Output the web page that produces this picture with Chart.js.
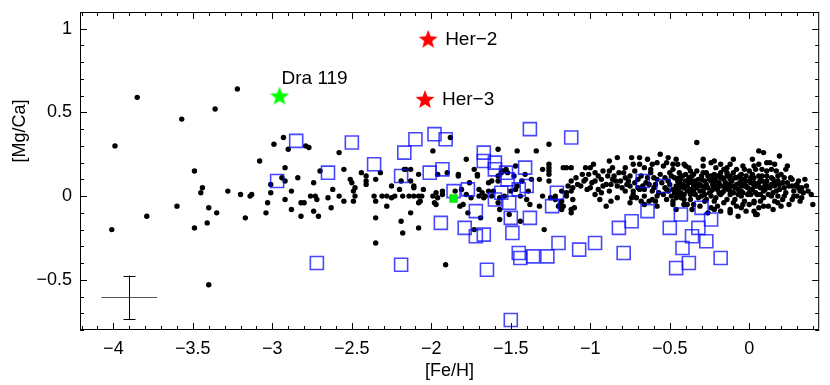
<!DOCTYPE html>
<html>
<head>
<meta charset="utf-8">
<script src="https://cdn.jsdelivr.net/npm/chart.js@4.4.1/dist/chart.umd.min.js"></script>
<style>
  html, body { margin: 0; padding: 0; background: #fff; }
  #chart { display: block; }
</style>
</head>
<body>
<canvas id="chart" width="830" height="385"></canvas>
<script>
// axis ticks
const xTicks = [-4, -3.5, -3, -2.5, -2, -1.5, -1, -0.5, 0];
const yTicks = [-0.5, 0, 0.5, 1];

// Her stars (red) and Dra 119 (green)
const herNames = ["Her\u22122", "Her\u22123"];
const herFeH = [-2.02, -2.04];
const herMgCa = [0.94, 0.58];
const draNames = ["Dra 119"];
const draFeH = [-2.955];
const draMgCa = [0.60];

// green filled square
const greenFeH = [-1.86];
const greenMgCa = [-0.014];

// typical error bar
const errFeH = [-3.90];
const errMgCa = [-0.605];
const errDx = [0.175];
const errDy = [0.13];

// dwarf galaxy stars (blue open squares)
const dsphStars = [
  [-2.85,0.33],[-2.65,0.14],[-2.97,0.09],[-2.50,0.32],[-2.36,0.19],[-2.72,-0.40],
  [-2.10,0.34],[-1.98,0.37],[-1.91,0.34],[-2.17,0.26],[-1.38,0.40],[-1.12,0.35],
  [-2.01,0.14],[-1.93,0.16],[-2.19,0.12],[-1.67,0.26],[-1.67,0.21],[-1.60,0.20],
  [-1.60,0.16],[-1.53,0.14],[-1.52,0.10],[-1.41,0.17],[-1.40,0.06],[-1.45,0.04],
  [-1.86,0.03],[-1.77,0.04],[-1.56,0.02],[-1.60,-0.02],[-1.51,-0.04],[-1.21,0.02],
  [-1.24,-0.06],[-1.72,-0.09],[-1.38,-0.13],[-1.50,-0.13],[-1.94,-0.16],[-1.79,-0.19],
  [-1.67,-0.23],[-1.72,-0.24],[-1.49,-0.22],[-1.20,-0.28],[-1.45,-0.34],[-1.44,-0.37],
  [-1.36,-0.36],[-1.27,-0.36],[-2.19,-0.41],[-1.65,-0.44],[-1.50,-0.74],[-1.07,-0.32],
  [-0.67,0.09],[-0.54,0.06],[-0.64,-0.09],[-0.74,-0.15],[-0.82,-0.19],[-0.50,-0.19],
  [-0.43,-0.11],[-0.97,-0.28],[-0.79,-0.34],[-0.42,-0.31],[-0.30,-0.07],[-0.24,-0.14],
  [-0.32,-0.19],[-0.36,-0.24],[-0.27,-0.27],[-0.18,-0.37],[-0.38,-0.40],[-0.46,-0.43]
];

// halo / disk field stars (black dots)
const fieldStars = [
  [-3.85,0.59],[-3.22,0.64],[-3.36,0.52],[-3.57,0.46],[-3.99,0.30],[-3.49,0.15],[-3.44,0.05],
  [-3.45,0.02],[-3.28,0.03],[-3.20,0.01],[-3.60,-0.06],[-3.40,-0.07],[-3.35,-0.10],[-3.79,-0.12],
  [-3.17,-0.13],[-3.41,-0.16],[-3.49,-0.19],[-4.01,-0.20],[-3.40,-0.53],[-3.14,0.00],[-3.13,0.01],
  [-2.93,0.35],[-2.99,0.31],[-2.90,0.28],[-2.79,0.30],[-2.77,0.29],[-3.08,0.21],[-2.58,0.26],
  [-2.92,0.17],[-2.94,0.11],[-2.92,0.09],[-2.70,0.15],[-2.55,0.16],[-2.84,0.11],[-2.74,0.08],
  [-3.01,0.07],[-3.01,0.02],[-2.88,0.03],[-3.03,-0.04],[-2.92,-0.02],[-2.82,-0.04],[-2.80,-0.04],
  [-2.76,0.00],[-2.73,0.00],[-2.72,-0.02],[-2.65,-0.01],[-2.62,0.04],[-2.58,0.00],[-2.55,-0.03],
  [-2.51,0.10],[-2.50,0.08],[-2.48,0.05],[-2.49,0.03],[-2.48,0.00],[-2.49,-0.03],[-2.44,0.14],
  [-2.41,0.12],[-2.41,0.09],[-2.41,0.07],[-2.35,0.10],[-2.32,0.14],[-2.36,0.00],[-2.35,-0.03],
  [-2.31,0.00],[-2.28,0.00],[-2.25,-0.01],[-2.23,0.00],[-2.25,0.06],[-2.20,0.04],[-2.19,0.09],
  [-2.17,0.16],[-2.18,0.00],[-2.28,-0.06],[-2.74,-0.09],[-2.88,-0.08],[-2.82,-0.12],[-2.71,-0.12],
  [-2.63,-0.07],[-3.04,-0.10],[-2.35,-0.13],[-2.19,-0.15],[-2.18,-0.22],[-2.35,-0.28],
  [-1.88,0.35],[-1.99,0.27],[-1.58,0.28],[-1.46,0.27],[-1.34,0.27],[-1.26,0.31],[-1.78,0.22],
  [-1.73,0.16],[-1.83,0.13],[-1.83,0.12],[-1.71,0.13],[-1.71,0.12],[-1.96,0.13],[-1.90,0.14],
  [-2.08,0.13],[-2.13,0.16],[-2.16,0.16],[-2.13,0.09],[-2.11,0.06],[-2.11,0.05],[-2.05,0.04],
  [-2.14,0.00],[-2.11,0.00],[-2.08,0.00],[-2.06,0.00],[-2.07,-0.03],[-2.08,-0.04],[-1.99,0.00],
  [-1.96,-0.01],[-1.97,0.02],[-1.93,0.03],[-1.93,0.01],[-1.98,-0.04],[-1.97,-0.05],[-1.85,0.03],
  [-1.81,0.04],[-1.76,0.08],[-1.78,0.01],[-1.75,-0.01],[-1.70,0.04],[-1.70,0.00],[-1.68,0.02],
  [-1.67,-0.01],[-1.66,0.00],[-1.64,0.08],[-1.62,0.09],[-1.64,0.03],[-1.62,0.00],[-1.61,0.03],
  [-1.58,0.09],[-1.58,0.12],[-1.56,0.14],[-1.55,0.15],[-1.53,0.16],[-1.52,0.14],[-1.48,0.12],
  [-1.50,0.03],[-1.47,0.04],[-1.46,0.06],[-1.43,0.09],[-1.47,0.18],[-1.41,0.13],[-1.37,0.10],
  [-1.39,0.03],[-1.40,-0.02],[-1.44,0.00],[-1.30,0.16],[-1.26,0.19],[-1.26,0.17],[-1.26,0.15],
  [-1.26,0.13],[-1.26,0.09],[-1.17,0.17],[-1.30,0.00],[-1.25,-0.01],[-1.22,-0.02],[-1.18,-0.03],
  [-1.18,-0.08],[-1.32,-0.06],[-1.32,0.10],[-1.38,-0.05],[-1.57,-0.08],[-1.57,-0.14],[-1.51,-0.11],
  [-1.44,-0.15],[-1.77,-0.10],[-1.82,-0.06],[-1.80,-0.05],[-1.69,-0.13],[-2.13,-0.10],[-2.08,-0.19],
  [-1.73,-0.20],[-1.29,-0.20],[-1.57,-0.01],[-1.58,-0.04],[-1.54,0.00],[-1.91,-0.41],[-1.22,0.00],
  [-1.19,-0.05],[-1.15,0.00],[-1.15,0.17],[-1.20,-0.06],
  [-1.12,0.17],[-1.03,0.17],[-1.00,0.17],[-0.98,0.19],[-0.97,0.14],[-0.92,0.15],[-0.88,0.21],
  [-0.83,0.23],[-0.74,0.23],[-0.69,0.23],[-0.64,0.22],[-0.56,0.25],[-0.51,0.23],[-0.46,0.22],
  [-0.40,0.18],[-1.12,0.09],[-1.08,0.07],[-1.04,0.09],[-1.03,0.10],[-0.99,0.08],[-0.93,0.10],
  [-0.89,0.12],[-0.86,0.10],[-0.82,0.14],[-0.78,0.11],[-0.75,0.12],[-0.73,0.19],[-0.69,0.19],
  [-0.66,0.17],[-0.61,0.19],[-0.58,0.20],[-0.54,0.18],[-0.48,0.16],[-0.44,0.14],[-1.18,0.03],
  [-1.15,0.02],[-1.12,0.03],[-1.11,0.05],[-1.06,0.06],[-1.02,0.04],[-0.95,0.04],[-0.92,0.06],
  [-0.87,0.07],[-0.83,0.06],[-0.81,0.09],[-0.77,0.07],[-0.72,0.08],[-0.69,0.04],[-0.63,0.07],
  [-0.60,0.05],[-0.58,0.10],[-0.53,0.11],[-0.47,0.11],[-0.44,0.08],[-0.41,0.05],[-1.17,-0.06],
  [-1.12,-0.08],[-1.10,-0.07],[-0.94,-0.02],[-0.90,-0.06],[-0.83,-0.01],[-0.74,-0.01],[-0.71,-0.01],
  [-0.66,0.00],[-0.68,-0.03],[-0.61,-0.02],[-0.58,0.00],[-0.54,0.01],[-0.49,0.00],[-0.45,0.01],
  [-0.41,-0.02],[-0.41,-0.05],[-0.97,0.01],[-0.88,0.03],[-0.66,0.04],[-0.51,0.03],[-0.78,0.03],
  [-0.73,0.03],[-0.45,0.04],[-0.43,0.02],[-1.11,-0.02],[-0.63,-0.03],[-0.59,-0.03],[-0.48,-0.03],
  [-0.46,-0.01],[-1.12,-0.10],[-0.39,-0.05],[-0.12,-0.09],[0.04,-0.11],
  [-0.33,0.32],[0.06,0.27],[0.09,0.26],[0.11,0.20],[0.19,0.24],[-0.45,0.19],[-0.41,0.19],
  [-0.37,0.15],[-0.24,0.20],[-0.22,0.21],[-0.18,0.19],[-0.12,0.19],[-0.16,0.16],[-0.08,0.16],
  [-0.04,0.18],[0.00,0.15],[0.03,0.18],[0.04,0.16],[0.08,0.16],[0.11,0.15],[0.14,0.16],
  [0.17,0.15],[0.23,0.16],[0.35,0.10],[0.37,0.03],[0.31,0.05],[0.27,0.06],[0.22,0.11],
  [0.18,0.09],[0.14,0.07],[0.07,0.10],[0.01,0.11],[-0.05,0.10],[-0.12,0.10],[-0.18,0.11],
  [-0.24,0.12],[-0.30,0.10],[-0.37,0.10],[-0.43,0.10],[-0.41,0.05],[-0.35,0.06],[-0.28,0.05],
  [-0.22,0.06],[-0.16,0.06],[-0.09,0.06],[-0.03,0.06],[0.03,0.06],[0.09,0.05],[0.16,0.06],
  [0.22,0.05],[0.28,0.03],[0.32,0.03],[-0.43,0.00],[-0.37,0.01],[-0.30,0.00],[-0.24,0.00],
  [-0.18,0.01],[-0.12,0.01],[-0.05,0.00],[0.01,0.01],[0.07,0.01],[0.14,0.00],[0.18,0.00],
  [0.21,-0.02],[0.27,-0.02],[-0.41,-0.05],[-0.35,-0.05],[-0.28,-0.03],[-0.22,-0.03],[-0.16,-0.04],
  [-0.09,-0.02],[-0.03,-0.03],[0.03,-0.04],[0.09,-0.01],[0.16,-0.03],[-0.18,-0.09],[-0.12,-0.08],
  [-0.05,-0.07],[0.00,-0.05],[0.03,-0.09],[0.05,-0.11],[0.15,-0.08],[-0.12,-0.10],[0.09,-0.06],
  [-0.24,-0.07],[0.03,-0.03],
  [-0.55,0.08],[-0.52,0.04],[-0.50,0.07],[-0.49,0.12],[-0.47,0.02],[-0.46,0.06],[-0.44,0.11],
  [-0.43,-0.01],[-0.42,0.07],[-0.40,0.13],[-0.39,0.03],[-0.38,0.08],[-0.37,-0.02],[-0.36,0.12],
  [-0.35,0.03],[-0.34,0.09],[-0.33,0.15],[-0.33,0.05],[-0.32,-0.01],[-0.31,0.07],[-0.30,0.12],
  [-0.29,0.03],[-0.28,0.09],[-0.27,-0.02],[-0.27,0.14],[-0.26,0.05],[-0.25,0.10],[-0.24,0.03],
  [-0.23,0.07],[-0.22,0.13],[-0.21,-0.01],[-0.21,0.09],[-0.20,0.04],[-0.19,0.08],[-0.18,0.14],
  [-0.17,0.02],[-0.16,0.10],[-0.15,0.05],[-0.14,-0.02],[-0.14,0.12],[-0.13,0.07],[-0.12,0.03],
  [-0.11,0.09],[-0.10,0.14],[-0.10,-0.04],[-0.09,0.05],[-0.08,0.11],[-0.07,0.01],[-0.06,0.08],
  [-0.05,0.13],[-0.05,0.03],[-0.04,-0.05],[-0.03,0.10],[-0.02,0.06],[-0.01,0.01],[0.00,0.09],
  [0.01,0.04],[0.02,0.13],[0.03,0.08],[0.04,0.02],[0.05,0.06],[0.06,0.12],[0.07,-0.03],
  [0.08,0.09],[0.09,0.03],[0.10,0.07],[0.11,0.12],[0.12,0.01],[0.13,0.05],[0.15,0.10],
  [0.17,0.03],[0.19,0.07],[0.20,0.13],[0.22,0.00],[0.24,0.08],[0.26,0.11],[0.29,0.06],
  [0.31,0.09],[0.33,-0.01],[0.25,-0.05],[0.12,-0.06],[-0.02,-0.09],[-0.20,-0.06],[-0.31,-0.06],
  [-0.48,-0.05],[-0.57,0.02],[-0.60,0.11],[-0.62,0.14],[-0.65,0.08],[-0.68,0.12],[-0.70,0.05],
  [-0.72,0.15],[-0.76,0.09],[-0.79,0.14],[-0.80,0.05],[-0.85,0.12],[-0.90,0.07],[-0.95,0.12],
  [-1.00,0.05],[-1.05,0.13],[-1.09,0.11],[-1.14,0.06],[-0.38,0.17],[-0.29,0.18],[-0.14,0.17],
  [0.06,0.19],[0.13,0.20],[-0.52,0.20],[-0.62,0.16],[-0.86,0.17],[-0.46,-0.08],[-0.26,-0.10],
  [-0.07,-0.12],[0.18,-0.04],[0.30,0.00],[-0.58,-0.06],[-0.66,-0.05],[-0.75,-0.04],[-0.87,-0.03],
  [-0.53,0.05],[-0.51,0.09],[-0.50,0.14],[-0.48,0.04],[-0.45,0.09],[-0.44,0.05],[-0.42,0.12],
  [-0.41,0.01],[-0.40,0.09],[-0.39,0.06],[-0.38,0.11],[-0.37,0.04],[-0.36,0.08],[-0.35,0.13],
  [-0.34,0.01],[-0.33,0.07],[-0.32,0.10],[-0.31,0.03],[-0.30,0.06],[-0.29,0.14],[-0.28,0.01],
  [-0.27,0.07],[-0.26,0.12],[-0.25,0.02],[-0.24,0.09],[-0.23,0.04],[-0.22,0.10],[-0.21,0.06],
  [-0.20,0.12],[-0.19,0.02],[-0.18,0.06],[-0.17,0.11],[-0.16,0.03],[-0.15,0.08],[-0.14,0.14],
  [-0.13,0.04],[-0.12,0.12],[-0.11,0.06],[-0.10,0.02],[-0.09,0.11],[-0.08,0.07],[-0.07,0.04],
  [-0.06,0.12],[-0.05,0.06],[-0.04,0.02],[-0.03,0.08],[-0.02,0.12],[-0.01,0.05],[0.00,0.02],
  [0.01,0.08],[0.02,0.04],[0.03,0.11],[0.04,0.06],[0.05,0.01],[0.06,0.08],[0.07,0.05],
  [0.08,0.12],[0.10,0.04],[0.11,0.09],[0.12,0.06],[0.14,0.11],[0.15,0.02],[0.16,0.08],
  [0.18,0.12],[0.19,0.04],[0.21,0.08],[0.23,0.02],[0.25,0.06],[0.27,0.10],[0.28,0.00],
  [0.30,0.07],[0.33,0.05],[0.34,0.02],[0.36,0.06],[0.39,0.01],[0.40,-0.05],[0.32,-0.03],
  [-0.56,0.13],[-0.59,0.07],[-0.61,0.03],[-0.64,0.11],[-0.67,0.06],[-0.70,0.10],[-0.73,0.01],
  [-0.75,0.06],[-0.78,0.17],[-0.84,0.09],[-0.88,0.15],[-0.93,0.02],[-0.97,0.09],[-1.01,0.13],
  [-0.36,-0.08],[-0.22,-0.08],[-0.08,-0.06],[0.06,-0.07],[0.20,-0.06],[-0.52,-0.02],[-0.29,0.22],
  [-0.10,0.22],[0.02,0.22],[0.16,0.19],[0.24,0.18],[-0.48,0.19],[-0.21,0.17],[-0.03,0.16]
];

const minus = v => String(v).replace("-", "\u2212");

function starImage(color, size) {
  const c = document.createElement("canvas");
  c.width = size; c.height = size;
  const g = c.getContext("2d");
  const R = size / 2, r = R * 0.42;
  g.beginPath();
  for (let i = 0; i < 10; i++) {
    const a = -Math.PI / 2 + i * Math.PI / 5;
    const rad = i % 2 ? r : R;
    g.lineTo(R + rad * Math.cos(a), R + 1 + rad * Math.sin(a));
  }
  g.closePath();
  g.fillStyle = color;
  g.fill();
  return c;
}

const toPts = (xs, ys) => xs.map((x, i) => ({ x, y: ys[i] }));

// frame with inward major/minor ticks on all four sides
const frameTicks = {
  id: "frameTicks",
  afterDatasetsDraw(chart) {
    const { ctx, chartArea: a, scales: { x, y } } = chart;
    ctx.save();
    ctx.strokeStyle = "#000";
    ctx.lineWidth = 1;
    ctx.strokeRect(a.left + 0.5, a.top + 0.5, a.right - a.left - 1, a.bottom - a.top - 1);
    ctx.beginPath();
    for (let i = Math.ceil(x.min * 10); i <= Math.floor(x.max * 10); i++) {
      const len = i % 5 === 0 ? 7 : 4;
      const px = Math.round(x.getPixelForValue(i / 10)) + 0.5;
      ctx.moveTo(px, a.bottom); ctx.lineTo(px, a.bottom - len);
      ctx.moveTo(px, a.top); ctx.lineTo(px, a.top + len);
    }
    for (let i = Math.ceil(y.min * 10); i <= Math.floor(y.max * 10); i++) {
      const len = i % 5 === 0 ? 7 : 4;
      const py = Math.round(y.getPixelForValue(i / 10)) + 0.5;
      ctx.moveTo(a.left, py); ctx.lineTo(a.left + len, py);
      ctx.moveTo(a.right, py); ctx.lineTo(a.right - len, py);
    }
    ctx.stroke();

    // error bar
    for (let i = 0; i < errFeH.length; i++) {
      const cx = x.getPixelForValue(errFeH[i]);
      const cy = y.getPixelForValue(errMgCa[i]);
      const x0 = x.getPixelForValue(errFeH[i] - errDx[i]);
      const x1 = x.getPixelForValue(errFeH[i] + errDx[i]);
      const y0 = y.getPixelForValue(errMgCa[i] + errDy[i]);
      const y1 = y.getPixelForValue(errMgCa[i] - errDy[i]);
      ctx.strokeStyle = "#555";
      ctx.beginPath();
      ctx.moveTo(x0, Math.round(cy) + 0.5); ctx.lineTo(x1, Math.round(cy) + 0.5);
      ctx.stroke();
      ctx.strokeStyle = "#000";
      ctx.beginPath();
      const vx = Math.round(cx) + 0.5;
      ctx.moveTo(vx, y0); ctx.lineTo(vx, y1);
      ctx.moveTo(vx - 6, Math.round(y0) + 0.5); ctx.lineTo(vx + 6, Math.round(y0) + 0.5);
      ctx.moveTo(vx - 6, Math.round(y1) + 0.5); ctx.lineTo(vx + 6, Math.round(y1) + 0.5);
      ctx.stroke();
    }

    // star labels
    ctx.fillStyle = "#000";
    ctx.font = "19px 'Liberation Sans', Arial, sans-serif";
    ctx.textBaseline = "middle";
    ctx.textAlign = "left";
    herNames.forEach((name, i) => {
      ctx.fillText(name, x.getPixelForValue(herFeH[i]) + 17, y.getPixelForValue(herMgCa[i]) + 1);
    });
    draNames.forEach((name, i) => {
      ctx.fillText(name, x.getPixelForValue(draFeH[i]) + 2, y.getPixelForValue(draMgCa[i]) - 17);
    });

    // y axis title
    ctx.save();
    ctx.translate(20, 131);
    ctx.rotate(-Math.PI / 2);
    ctx.textAlign = "center";
    ctx.font = "18px 'Liberation Sans', Arial, sans-serif";
    ctx.fillText("[Mg/Ca]", 0, 0);
    ctx.restore();
    ctx.restore();
  }
};

const font = { family: "'Liberation Sans', Arial, sans-serif", size: 18 };

new Chart(document.getElementById("chart"), {
  type: "scatter",
  data: {
    datasets: [
      {
        data: toPts(herFeH, herMgCa),
        pointStyle: starImage("#ff0000", 20)
      },
      {
        data: toPts(draFeH, draMgCa),
        pointStyle: starImage("#00ff00", 20)
      },
      {
        data: toPts(greenFeH, greenMgCa),
        pointStyle: "rect",
        pointRadius: 6,
        backgroundColor: "#00ee00",
        borderWidth: 0
      },
      {
        data: dsphStars.map(p => ({ x: p[0], y: p[1] })),
        pointStyle: "rect",
        pointRadius: 9.2,
        backgroundColor: "rgba(0,0,0,0)",
        borderColor: "rgba(10,10,255,0.75)",
        borderWidth: 1.6
      },
      {
        data: fieldStars.map(p => ({ x: p[0], y: p[1] })),
        pointRadius: 2.7,
        backgroundColor: "#000",
        borderWidth: 0
      }
    ]
  },
  options: {
    responsive: false,
    animation: false,
    events: [],
    layout: { padding: { top: 12, right: 8, left: 0, bottom: 0 } },
    plugins: { legend: { display: false }, tooltip: { enabled: false } },
    scales: {
      x: {
        type: "linear",
        min: -4.21,
        max: 0.44,
        grid: { display: false, drawTicks: false },
        border: { display: false },
        afterBuildTicks: s => { s.ticks = xTicks.map(v => ({ value: v })); },
        afterFit: s => { s.height = 55; s.paddingLeft = 0; s.paddingRight = 0; },
        ticks: { color: "#000", font, padding: 8, maxRotation: 0, callback: v => minus(v) },
        title: { display: true, text: "[Fe/H]", color: "#000", font, padding: { top: 0, bottom: 3 } }
      },
      y: {
        type: "linear",
        min: -0.8,
        max: 1.1,
        grid: { display: false, drawTicks: false },
        border: { display: false },
        afterBuildTicks: s => { s.ticks = yTicks.map(v => ({ value: v })); },
        afterFit: s => { s.width = 80; s.paddingTop = 0; s.paddingBottom = 0; },
        ticks: { color: "#000", font, padding: 8, callback: v => minus(v) }
      }
    }
  },
  plugins: [frameTicks]
});
</script>
</body>
</html>
